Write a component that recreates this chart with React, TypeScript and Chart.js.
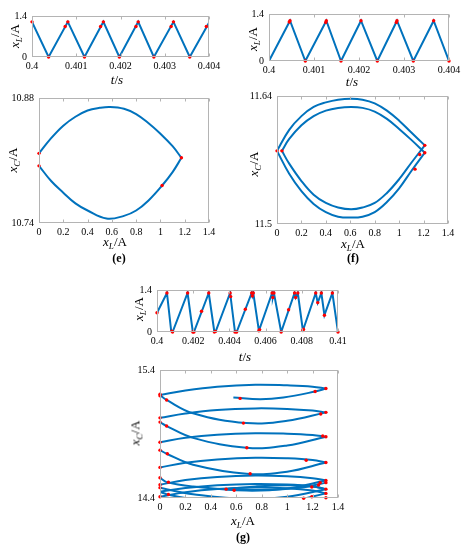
import React, { useEffect, useRef } from 'react';
import { Chart, registerables } from 'chart.js';
Chart.register(...registerables);

const BLUE = '#0072BD';
const RED = '#FF0000';
const BOX = '#b4b4b4';
const FONT = "'Liberation Serif', 'DejaVu Serif', 'Times New Roman', serif";

// ---------- Panel 1 (top-left time series) ----------
const p1T = [0.4, 0.400375, 0.40081, 0.401186, 0.401613, 0.401974, 0.4024, 0.402754, 0.403197, 0.403565, 0.404];
const p1I = [1.2, 0, 1.2, 0, 1.2, 0, 1.2, 0, 1.2, 0, 1.17];
const p1DotT = [0.4, 0.400375, 0.40075, 0.40081, 0.401186, 0.40155, 0.401613, 0.401974, 0.40235, 0.4024, 0.402754, 0.403144, 0.403197, 0.403565, 0.40394];
const p1DotI = [1.2, 0, 1.04, 1.2, 0, 1.04, 1.2, 0, 1.04, 1.2, 0, 1.04, 1.2, 0, 1.04];

// ---------- Panel 2 (top-right time series) ----------
const p2T = [0.4, 0.400467, 0.400807, 0.401274, 0.4016, 0.402044, 0.402407, 0.402844, 0.403207, 0.403659, 0.404];
const p2I = [0, 1.2, 0, 1.2, 0, 1.2, 0, 1.2, 0, 1.2, 0];
const p2DotT = [0.400467, 0.40045, 0.400807, 0.401274, 0.40126, 0.4016, 0.402044, 0.402407, 0.402844, 0.40283, 0.403207, 0.403659, 0.404];
const p2DotI = [1.2, 1.16, 0, 1.2, 1.15, 0, 1.2, 0, 1.2, 1.15, 0, 1.2, 0];

// ---------- Panel (e) phase ----------
const eUpX = [0, 0.1, 0.2, 0.3, 0.4, 0.5, 0.584, 0.7, 0.8, 0.9, 1.0, 1.1, 1.173];
const eUpY = [10.818, 10.835, 10.849, 10.859, 10.866, 10.869, 10.87, 10.868, 10.862, 10.852, 10.84, 10.826, 10.813];
const eLoX = [0, 0.1, 0.2, 0.3, 0.4, 0.556, 0.7, 0.8, 0.9, 1.014, 1.1, 1.173];
const eLoY = [10.804, 10.787, 10.774, 10.762, 10.754, 10.745, 10.748, 10.754, 10.765, 10.782, 10.797, 10.813];
const eSideX = [0, 0];
const eSideY = [10.804, 10.818];
const eDotX = [0, 0, 1.173, 1.014];
const eDotY = [10.818, 10.804, 10.813, 10.782];

// ---------- Panel (f) phase ----------
const fArcX = [0, 0.1, 0.2, 0.3, 0.4, 0.5, 0.607, 0.7, 0.8, 0.9, 1.0, 1.1, 1.21];
const fInX = [0.04, 0.1, 0.2, 0.3, 0.4, 0.5, 0.607, 0.7, 0.8, 0.9, 1.0, 1.1, 1.21];
const fUpOuter = [11.58, 11.603, 11.618, 11.628, 11.633, 11.636, 11.637, 11.636, 11.632, 11.624, 11.613, 11.6, 11.586];
const fUpInner = [11.58, 11.593, 11.608, 11.618, 11.624, 11.627, 11.628, 11.627, 11.623, 11.615, 11.604, 11.592, 11.578];
const fLoOuter = [11.58, 11.555, 11.536, 11.522, 11.513, 11.508, 11.507, 11.508, 11.513, 11.524, 11.539, 11.558, 11.578];
const fLoInner = [11.58, 11.566, 11.547, 11.532, 11.523, 11.518, 11.516, 11.518, 11.523, 11.534, 11.549, 11.567, 11.586];
const fDotX = [0, 0.04, 1.21, 1.21, 1.168, 1.13];
const fDotY = [11.58, 11.58, 11.586, 11.578, 11.576, 11.56];

// ---------- Panel (g) time series ----------
const gT = [0.4, 0.40055, 0.40079, 0.40086, 0.40169, 0.40198, 0.40204, 0.40286, 0.40317, 0.40323, 0.40404, 0.40431, 0.4044,
  0.40523, 0.40527, 0.40532, 0.40563, 0.40636, 0.4064, 0.40646, 0.40686, 0.4076, 0.40766, 0.40778, 0.40806, 0.40877,
  0.40888, 0.40908, 0.40925, 0.40969, 0.41];
const gI = [0.64, 1.3, 0, 0, 1.3, 0, 0, 1.3, 0, 0, 1.3, 0, 0,
  1.3, 1.2, 1.3, 0.04, 1.3, 1.15, 1.3, 0, 1.3, 1.15, 1.3, 0.05, 1.3,
  0.98, 1.3, 0.56, 1.3, 0];
const gDotT = [0.4, 0.40055, 0.40082, 0.40086, 0.40169, 0.40198, 0.40204, 0.40246, 0.40286, 0.40317, 0.40323, 0.40404, 0.40407,
  0.40431, 0.4044, 0.40488, 0.40523, 0.40527, 0.40532, 0.40563, 0.40567, 0.40636, 0.4064, 0.40646, 0.40686, 0.40727,
  0.4076, 0.40766, 0.40778, 0.40806, 0.40809, 0.40877, 0.40888, 0.40908, 0.40925, 0.40969, 0.41];
const gDotI = [0.64, 1.3, 0.03, 0, 1.3, 0, 0, 0.69, 1.3, 0, 0.02, 1.3, 1.18,
  0, 0, 0.76, 1.3, 1.2, 1.3, 0.04, 0.08, 1.3, 1.15, 1.3, 0, 0.74,
  1.3, 1.15, 1.3, 0.05, 0.09, 1.3, 0.98, 1.3, 0.56, 1.3, 0];

// ---------- Panel (g) phase ----------
const gRiseX = [0, 0.2, 0.45, 0.75, 1.0, 1.2, 1.305];
const gRise0 = [14.41, 14.445, 14.47, 14.482, 14.476, 14.458, 14.436];
const gRise1 = [14.504, 14.54, 14.565, 14.576, 14.57, 14.555, 14.537];
const gRise2 = [14.639, 14.675, 14.7, 14.714, 14.71, 14.697, 14.677];
const gRise3 = [14.835, 14.87, 14.895, 14.906, 14.902, 14.892, 14.879];
const gRise4 = [15.026, 15.06, 15.088, 15.1, 15.096, 15.083, 15.069];
const gRise5 = [15.204, 15.24, 15.27, 15.285, 15.28, 15.27, 15.255];
const gRise6 = [14.448, 14.478, 14.5, 14.51, 14.505, 14.49, 14.469];
const gFallX = [1.305, 1.0, 0.68, 0.26, 0.052, 0];
const gFall0 = [14.436, 14.37, 14.35, 14.39, 14.43, 14.448];
const gFall1 = [14.537, 14.475, 14.458, 14.49, 14.524, 14.558];
const gFall2 = [14.677, 14.605, 14.589, 14.66, 14.746, 14.774];
const gFall3 = [14.879, 14.81, 14.792, 14.87, 14.962, 14.993];
const gFall4 = [15.069, 15.003, 14.985, 15.062, 15.166, 15.204];
const gFall6 = [14.469, 14.41, 14.392, 14.43, 14.468, 14.481];
const gEndX = [1.305, 1.22, 0.97, 0.787, 0.577];
const gEndY = [15.255, 15.232, 15.185, 15.172, 15.186];
const gPartFX = [1.305, 1.1, 0.8, 0.52];
const gPartFY = [14.52, 14.48, 14.462, 14.469];
const gPartRX = [0.52, 0.75, 1.0, 1.2, 1.305];
const gPartRY = [14.469, 14.49, 14.5, 14.49, 14.469];
const gLeftX = [0, 0, 0, 0, 0, 0, 0, 0];
const gLeftY = [14.41, 14.481, 14.504, 14.558, 14.639, 14.774, 14.835, 14.993];
const gLeftTopY = [14.993, 15.026];
const gDotX = [0, 0, 0.052, 1.305, 1.22, 0.63, 0, 0, 0.052, 0.656, 1.264, 1.305, 0, 1.28, 1.305, 0.683,
  0, 0.058, 0, 1.15, 1.305, 0.709, 0, 0.066, 0, 0, 0.066, 0,
  1.305, 1.305, 1.26, 1.247, 1.194, 1.305, 1.305, 1.194, 1.305, 1.13, 0.52, 0.583];
const gDotY = [15.21, 15.198, 15.166, 15.255, 15.232, 15.178, 15.026, 14.993, 14.962, 14.985, 15.056, 15.069, 14.835, 14.884, 14.879, 14.792,
  14.774, 14.746, 14.639, 14.695, 14.677, 14.589, 14.558, 14.524, 14.504, 14.481, 14.428, 14.41,
  14.537, 14.52, 14.52, 14.502, 14.486, 14.469, 14.436, 14.41, 14.402, 14.398, 14.469, 14.461];

// ---------- helpers ----------
const pts = (xs: number[], ys: number[]) => xs.map((x, i) => ({ x, y: ys[i] }));
const lineDs = (xs: number[], ys: number[], tension = 0) => ({
  data: pts(xs, ys), showLine: true, borderColor: BLUE, borderWidth: 2, pointRadius: 0, tension, fill: false,
});
const dotDs = (xs: number[], ys: number[]) => ({
  data: pts(xs, ys), showLine: false, pointRadius: 1.7, pointBackgroundColor: RED, pointBorderWidth: 0, clip: false,
});
const fmt = (v: any) => String(parseFloat(Number(v).toFixed(4)));

const YW = 42, PT = 8, PR = 18, XH = 18;

const boxPlugin = {
  id: 'boxTicks',
  afterDraw(chart: any) {
    const { ctx, chartArea: a, scales } = chart;
    const l = Math.round(a.left) + 0.5, t = Math.round(a.top) + 0.5;
    const r = Math.round(a.right) - 0.5, b = Math.round(a.bottom) - 0.5;
    ctx.save();
    ctx.strokeStyle = BOX;
    ctx.lineWidth = 1;
    ctx.strokeRect(l, t, r - l, b - t);
    ctx.beginPath();
    for (const tk of scales.x.ticks) {
      const px = Math.round(scales.x.getPixelForValue(tk.value)) + 0.5;
      ctx.moveTo(px, b); ctx.lineTo(px, b - 3);
      ctx.moveTo(px, t); ctx.lineTo(px, t + 3);
    }
    ctx.stroke();
    ctx.restore();
  },
};

type Box = { l: number; t: number; r: number; b: number };
function Panel(props: { box: Box; xMin: number; xMax: number; xStep: number; yMin: number; yMax: number; datasets: any[] }) {
  const ref = useRef<HTMLCanvasElement>(null);
  const { box, xMin, xMax, xStep, yMin, yMax, datasets } = props;
  const w = box.r - box.l + YW + PR;
  const h = box.b - box.t + PT + XH;
  useEffect(() => {
    if (!ref.current) return;
    const tickFont = { family: FONT, size: 10 };
    const chart = new Chart(ref.current, {
      type: 'scatter',
      data: { datasets },
      options: {
        responsive: false,
        animation: false,
        events: [],
        plugins: { legend: { display: false }, tooltip: { enabled: false } },
        layout: { padding: { top: PT, right: PR, left: 0, bottom: 0 } },
        elements: { line: { capBezierPoints: false } },
        scales: {
          x: {
            type: 'linear', min: xMin, max: xMax,
            grid: { display: false, drawTicks: false }, border: { display: false },
            ticks: { stepSize: xStep, autoSkip: false, maxRotation: 0, padding: 3, color: '#000', font: tickFont, callback: fmt },
            afterFit: (s: any) => { s.height = XH; },
          },
          y: {
            type: 'linear', min: yMin, max: yMax,
            grid: { display: false, drawTicks: false }, border: { display: false },
            ticks: { padding: 5, color: '#000', font: tickFont, callback: fmt },
            afterBuildTicks: (s: any) => { s.ticks = [{ value: yMin }, { value: yMax }]; },
            afterFit: (s: any) => { s.width = YW; },
          },
        },
      } as any,
      plugins: [boxPlugin],
    });
    return () => chart.destroy();
  }, []);
  return (
    <canvas ref={ref} width={w} height={h}
      style={{ position: 'absolute', left: box.l - YW, top: box.t - PT, width: w, height: h }} />
  );
}

const txt: React.CSSProperties = {
  position: 'absolute', fontFamily: FONT, fontSize: 13, lineHeight: 1, whiteSpace: 'nowrap', color: '#000',
};
function XVar({ sub }: { sub: string }) {
  return (
    <span>
      <i>x</i>
      <i style={{ fontSize: '0.7em', position: 'relative', top: '0.3em' }}>{sub}</i>/A
    </span>
  );
}
function XTitle({ cx, cy, children }: { cx: number; cy: number; children: any }) {
  return <div style={{ ...txt, left: cx, top: cy, transform: 'translate(-50%,-50%)' }}>{children}</div>;
}
function YTitle({ cx, cy, children }: { cx: number; cy: number; children: any }) {
  return <div style={{ ...txt, left: cx, top: cy, transform: 'translate(-50%,-50%) rotate(-90deg)' }}>{children}</div>;
}
function Tag({ cx, cy, children }: { cx: number; cy: number; children: any }) {
  return <div style={{ ...txt, fontSize: 12, fontWeight: 'bold', left: cx, top: cy, transform: 'translate(-50%,-50%)' }}>{children}</div>;
}

export default function App() {
  return (
    <div style={{ position: 'absolute', left: 0, top: 0, width: 466, height: 550, overflow: 'hidden', background: '#fff' }}>
      <Panel box={{ l: 32, t: 13, r: 209, b: 57 }} xMin={0.4} xMax={0.404} xStep={0.001} yMin={0} yMax={1.4}
        datasets={[dotDs(p1DotT, p1DotI), lineDs(p1T, p1I)]} />
      <Panel box={{ l: 269, t: 11, r: 449, b: 61 }} xMin={0.4} xMax={0.404} xStep={0.001} yMin={0} yMax={1.4}
        datasets={[dotDs(p2DotT, p2DotI), lineDs(p2T, p2I)]} />
      <Panel box={{ l: 39, t: 95, r: 209, b: 223 }} xMin={0} xMax={1.4} xStep={0.2} yMin={10.74} yMax={10.88}
        datasets={[dotDs(eDotX, eDotY), lineDs(eUpX, eUpY, 0.4), lineDs(eLoX, eLoY, 0.4), lineDs(eSideX, eSideY)]} />
      <Panel box={{ l: 277, t: 93, r: 448, b: 224 }} xMin={0} xMax={1.4} xStep={0.2} yMin={11.5} yMax={11.64}
        datasets={[dotDs(fDotX, fDotY), lineDs(fArcX, fUpOuter, 0.4), lineDs(fInX, fUpInner, 0.4),
          lineDs(fArcX, fLoOuter, 0.4), lineDs(fInX, fLoInner, 0.4)]} />
      <Panel box={{ l: 157, t: 287, r: 338, b: 332 }} xMin={0.4} xMax={0.41} xStep={0.002} yMin={0} yMax={1.4}
        datasets={[dotDs(gDotT, gDotI), lineDs(gT, gI)]} />
      <Panel box={{ l: 160, t: 367, r: 338, b: 498 }} xMin={0} xMax={1.4} xStep={0.2} yMin={14.4} yMax={15.4}
        datasets={[dotDs(gDotX, gDotY),
          lineDs(gRiseX, gRise0, 0.4), lineDs(gRiseX, gRise1, 0.4), lineDs(gRiseX, gRise2, 0.4),
          lineDs(gRiseX, gRise3, 0.4), lineDs(gRiseX, gRise4, 0.4), lineDs(gRiseX, gRise5, 0.4),
          lineDs(gRiseX, gRise6, 0.4),
          lineDs(gFallX, gFall0, 0.4), lineDs(gFallX, gFall1, 0.4), lineDs(gFallX, gFall2, 0.4),
          lineDs(gFallX, gFall3, 0.4), lineDs(gFallX, gFall4, 0.4), lineDs(gFallX, gFall6, 0.4),
          lineDs(gEndX, gEndY, 0.4),
          lineDs(gPartFX, gPartFY, 0.4), lineDs(gPartRX, gPartRY, 0.4),
          lineDs(gLeftX, gLeftY), lineDs([0, 0], gLeftTopY)]} />

      <YTitle cx={15} cy={36}><XVar sub="L" /></YTitle>
      <XTitle cx={117} cy={79}><i>t</i>/<i>s</i></XTitle>
      <YTitle cx={253} cy={39}><XVar sub="L" /></YTitle>
      <XTitle cx={352} cy={81}><i>t</i>/<i>s</i></XTitle>

      <YTitle cx={13} cy={160}><XVar sub="C" /></YTitle>
      <XTitle cx={115} cy={242}><XVar sub="L" /></XTitle>
      <Tag cx={119} cy={258}>(e)</Tag>

      <YTitle cx={254} cy={164}><XVar sub="C" /></YTitle>
      <XTitle cx={353} cy={244}><XVar sub="L" /></XTitle>
      <Tag cx={353} cy={258}>(f)</Tag>

      <YTitle cx={139} cy={309}><XVar sub="L" /></YTitle>
      <XTitle cx={245} cy={356}><i>t</i>/<i>s</i></XTitle>

      <YTitle cx={135} cy={433}><XVar sub="C" /></YTitle>
      <XTitle cx={243} cy={521}><XVar sub="L" /></XTitle>
      <Tag cx={243} cy={537}>(g)</Tag>
    </div>
  );
}
